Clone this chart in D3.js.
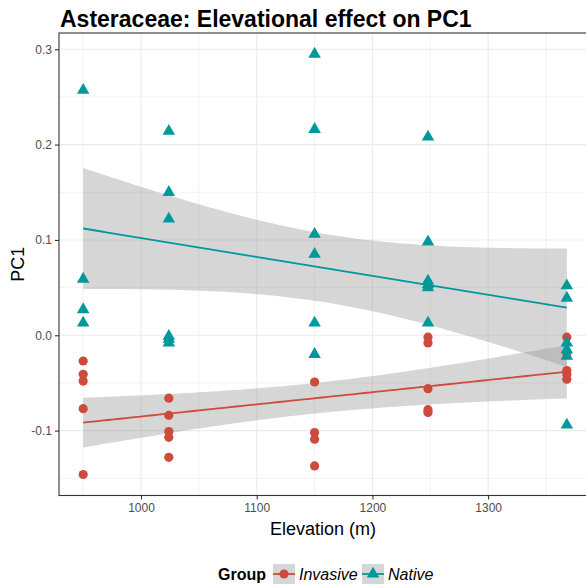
<!DOCTYPE html>
<html>
<head>
<meta charset="utf-8">
<script src="https://cdn.jsdelivr.net/npm/d3@7"></script>
<style>
  body { margin: 0; background: #fff; }
  text { font-family: "Liberation Sans", Arial, sans-serif; }
</style>
</head>
<body>
<div id="chart"></div>
<script>
// Asteraceae: PC1 against elevation, invasive vs native, with lm fits + 95% bands

// ---- data ----
const elevations = [950, 1024, 1150, 1248, 1368];
const invasivePC1 = [
    [-0.027, -0.041, -0.048, -0.077, -0.146],
    [-0.066, -0.084, -0.101, -0.107, -0.128],
    [-0.049, -0.102, -0.109, -0.137],
    [-0.002, -0.008, -0.056, -0.078, -0.081],
    [-0.002, -0.019, -0.037, -0.041, -0.046]
];
const nativePC1 = [
    [0.257, 0.059, 0.027, 0.013],
    [0.214, 0.150, 0.122, -0.001, -0.004, -0.008],
    [0.295, 0.216, 0.106, 0.085, 0.013, -0.020],
    [0.208, 0.098, 0.057, 0.053, 0.050, 0.013],
    [0.052, 0.039, -0.008, -0.015, -0.022, -0.094]
];
const groupNames = ['Invasive', 'Native'];
const xTicks = [1000, 1100, 1200, 1300];
const yTicks = [-0.1, 0.0, 0.1, 0.2, 0.3];

// ---- layout ----
const width = 586, height = 585;
const panel = { left: 59, right: 591, top: 33, bottom: 495.5 };
const colors = { Invasive: '#cc4b3d', Native: '#00999b' };

// flatten the groups into point records
function toPoints(group, values) {
    const pts = [];
    values.forEach((vals, i) => {
        vals.forEach(v => pts.push({ group: group, elev: elevations[i], pc1: v }));
    });
    return pts;
}
const invasivePts = toPoints('Invasive', invasivePC1);
const nativePts = toPoints('Native', nativePC1);
const allPts = invasivePts.concat(nativePts);

// scales with ggplot-like 5% expansion
const xExt = d3.extent(allPts, d => d.elev);
const yExt = d3.extent(allPts, d => d.pc1);
const xPad = (xExt[1] - xExt[0]) * 0.05;
const yPad = (yExt[1] - yExt[0]) * 0.05;
const x = d3.scaleLinear().domain([xExt[0] - xPad, xExt[1] + xPad]).range([panel.left, panel.right]);
const y = d3.scaleLinear().domain([yExt[0] - yPad, yExt[1] + yPad]).range([panel.bottom, panel.top]);

// minor grid = halfway between majors, kept inside the domain
function minorTicks(major, domain) {
    const step = major[1] - major[0];
    const out = [];
    for (let v = major[0] - step / 2; v <= domain[1]; v += step) {
        if (v >= domain[0]) out.push(v);
    }
    return out;
}

// 97.5% t quantile (Cornish-Fisher expansion)
function tQuantile(df) {
    const z = 1.959964;
    const z3 = z ** 3, z5 = z ** 5, z7 = z ** 7;
    return z + (z3 + z) / (4 * df)
        + (5 * z5 + 16 * z3 + 3 * z) / (96 * df * df)
        + (3 * z7 + 19 * z5 + 17 * z3 - 15 * z) / (384 * df ** 3);
}

// linear model with confidence band, like geom_smooth(method = 'lm')
function lmBand(pts) {
    const n = pts.length;
    const xbar = d3.mean(pts, d => d.elev);
    const ybar = d3.mean(pts, d => d.pc1);
    const sxx = d3.sum(pts, d => (d.elev - xbar) ** 2);
    const sxy = d3.sum(pts, d => (d.elev - xbar) * (d.pc1 - ybar));
    const b = sxy / sxx;
    const a = ybar - b * xbar;
    const rss = d3.sum(pts, d => (d.pc1 - a - b * d.elev) ** 2);
    const s = Math.sqrt(rss / (n - 2));
    const t = tQuantile(n - 2);
    const ext = d3.extent(pts, d => d.elev);
    return d3.range(80).map(i => {
        const xv = ext[0] + (ext[1] - ext[0]) * i / 79;
        const fit = a + b * xv;
        const se = s * Math.sqrt(1 / n + (xv - xbar) ** 2 / sxx);
        return { elev: xv, fit: fit, lo: fit - t * se, hi: fit + t * se };
    });
}

const svg = d3.select('#chart')
    .append('svg')
    .attr('width', width)
    .attr('height', height);

svg.append('defs').append('clipPath')
    .attr('id', 'panel-clip')
    .append('rect')
    .attr('x', panel.left)
    .attr('y', panel.top)
    .attr('width', panel.right - panel.left)
    .attr('height', panel.bottom - panel.top);

const plot = svg.append('g').attr('clip-path', 'url(#panel-clip)');

// grid lines
const xMinor = minorTicks(xTicks, x.domain());
const yMinor = minorTicks(yTicks, y.domain());

plot.selectAll('.xminor').data(xMinor).enter().append('line')
    .attr('x1', d => x(d)).attr('x2', d => x(d))
    .attr('y1', panel.top).attr('y2', panel.bottom)
    .attr('stroke', '#f2f2f2').attr('stroke-width', 1);
plot.selectAll('.yminor').data(yMinor).enter().append('line')
    .attr('y1', d => y(d)).attr('y2', d => y(d))
    .attr('x1', panel.left).attr('x2', panel.right)
    .attr('stroke', '#f2f2f2').attr('stroke-width', 1);
plot.selectAll('.xmajor').data(xTicks).enter().append('line')
    .attr('x1', d => x(d)).attr('x2', d => x(d))
    .attr('y1', panel.top).attr('y2', panel.bottom)
    .attr('stroke', '#ebebeb').attr('stroke-width', 1.1);
plot.selectAll('.ymajor').data(yTicks).enter().append('line')
    .attr('y1', d => y(d)).attr('y2', d => y(d))
    .attr('x1', panel.left).attr('x2', panel.right)
    .attr('stroke', '#ebebeb').attr('stroke-width', 1.1);

// smooth ribbons then lines
const fits = [
    { group: 'Invasive', band: lmBand(invasivePts) },
    { group: 'Native', band: lmBand(nativePts) }
];

const area = d3.area()
    .x(d => x(d.elev))
    .y0(d => y(d.lo))
    .y1(d => y(d.hi));
const line = d3.line()
    .x(d => x(d.elev))
    .y(d => y(d.fit));

fits.forEach(f => {
    plot.append('path')
        .datum(f.band)
        .attr('d', area)
        .attr('fill', '#999999')
        .attr('fill-opacity', 0.4);
});
fits.forEach(f => {
    plot.append('path')
        .datum(f.band)
        .attr('d', line)
        .attr('fill', 'none')
        .attr('stroke', colors[f.group])
        .attr('stroke-width', 1.8);
});

// points
const triangle = d3.symbol().type(d3.symbolTriangle).size(68);

plot.selectAll('.inv')
    .data(invasivePts)
    .enter()
    .append('circle')
    .attr('cx', d => x(d.elev))
    .attr('cy', d => y(d.pc1))
    .attr('r', 4.6)
    .attr('fill', colors.Invasive);

plot.selectAll('.nat')
    .data(nativePts)
    .enter()
    .append('path')
    .attr('d', triangle)
    .attr('transform', d => `translate(${x(d.elev)},${y(d.pc1)})`)
    .attr('fill', colors.Native);

// panel border
svg.append('rect')
    .attr('x', panel.left)
    .attr('y', panel.top)
    .attr('width', panel.right - panel.left)
    .attr('height', panel.bottom - panel.top)
    .attr('fill', 'none')
    .attr('stroke', '#333333')
    .attr('stroke-width', 1.1);

// axes
const yAxis = svg.append('g')
    .attr('transform', `translate(${panel.left},0)`)
    .call(d3.axisLeft(y)
        .tickValues(yTicks)
        .tickFormat(d => d.toFixed(1))
        .tickSize(4)
        .tickPadding(3));
const xAxis = svg.append('g')
    .attr('transform', `translate(0,${panel.bottom})`)
    .call(d3.axisBottom(x)
        .tickValues(xTicks)
        .tickFormat(d3.format('d'))
        .tickSize(4)
        .tickPadding(4));

[xAxis, yAxis].forEach(ax => {
    ax.select('.domain').remove();
    ax.selectAll('.tick line').attr('stroke', '#333333').attr('stroke-width', 1.1);
    ax.selectAll('.tick text')
        .attr('fill', '#4d4d4d')
        .style('font-size', '12px')
        .style('font-family', '"Liberation Sans", Arial, sans-serif');
});

// titles
svg.append('text')
    .attr('x', 60)
    .attr('y', 27)
    .style('font-size', '23px')
    .style('font-weight', 'bold')
    .attr('fill', '#000')
    .text('Asteraceae: Elevational effect on PC1');

svg.append('text')
    .attr('x', (panel.left + panel.right) / 2 - 2)
    .attr('y', 535)
    .attr('text-anchor', 'middle')
    .style('font-size', '18px')
    .attr('fill', '#000')
    .text('Elevation (m)');

svg.append('text')
    .attr('transform', `translate(24,${(panel.top + panel.bottom) / 2}) rotate(-90)`)
    .attr('text-anchor', 'middle')
    .style('font-size', '18px')
    .attr('fill', '#000')
    .text('PC1');

// legend
const legend = svg.append('g').attr('transform', 'translate(0,574)');

legend.append('text')
    .attr('x', 218)
    .attr('y', 6)
    .style('font-size', '16px')
    .style('font-weight', 'bold')
    .text('Group');

const keyX = [273, 362];
groupNames.forEach((g, i) => {
    const k = legend.append('g').attr('transform', `translate(${keyX[i]},0)`);
    k.append('rect')
        .attr('x', 0).attr('y', -10)
        .attr('width', 22).attr('height', 20)
        .attr('fill', '#999999').attr('fill-opacity', 0.4);
    k.append('line')
        .attr('x1', 0).attr('x2', 22)
        .attr('y1', 0).attr('y2', 0)
        .attr('stroke', colors[g]).attr('stroke-width', 1.8);
    if (g === 'Invasive') {
        k.append('circle').attr('cx', 11).attr('cy', 0).attr('r', 4.6).attr('fill', colors[g]);
    } else {
        k.append('path').attr('d', triangle).attr('transform', 'translate(11,0)').attr('fill', colors[g]);
    }
    legend.append('text')
        .attr('x', keyX[i] + 26)
        .attr('y', 6)
        .style('font-size', '16px')
        .style('font-style', 'italic')
        .text(g);
});
</script>
</body>
</html>
